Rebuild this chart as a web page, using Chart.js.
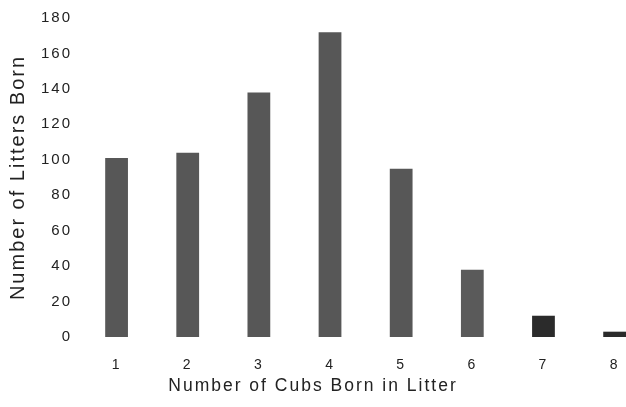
<!DOCTYPE html>
<html>
<head>
<meta charset="utf-8">
<script src="https://cdn.jsdelivr.net/npm/chart.js@4"></script>
<style>
    html, body { margin: 0; padding: 0; background: #ffffff; overflow: hidden; }
    #wrap { width: 626px; height: 407px; }
</style>
</head>
<body>
<div id="wrap"><canvas id="litters"></canvas></div>
<script>
// cubs per litter vs number of litters
var cubs = [1, 2, 3, 4, 5, 6, 7, 8];
var litters = [101, 104, 138, 172, 95, 38, 12, 3];
var barColors = ['#575757', '#575757', '#575757', '#575757', '#575757', '#5a5a5a', '#2b2b2b', '#2b2b2b'];
var yTicks = [0, 20, 40, 60, 80, 100, 120, 140, 160, 180];

// the scanned text is drawn quite wide, so space the letters a little
var spacing = {
    id: 'spacing',
    beforeUpdate: function(chart) { chart.ctx.letterSpacing = '2px'; },
    beforeDraw: function(chart) { chart.ctx.letterSpacing = '2px'; }
};

var points = cubs.map(function(c, i) { return { x: c, y: litters[i] }; });

var ctx = document.getElementById('litters');
var chart = new Chart(ctx, {
    type: 'bar',
    data: {
        datasets: [{
            label: 'Litters',
            data: points,
            backgroundColor: barColors,
            barPercentage: 0.32,
            categoryPercentage: 1
        }]
    },
    plugins: [spacing],
    options: {
        responsive: true,
        maintainAspectRatio: false,
        animation: false,
        layout: { padding: { top: 13, right: 0, left: 0, bottom: 0 } },
        plugins: {
            legend: { display: false },
            tooltip: { enabled: false },
            title: {     // centred on the whole picture like the original
                display: true,
                position: 'bottom',
                text: 'Number of Cubs Born in Litter',
                color: '#222',
                font: { family: 'Liberation Sans', size: 17.5, weight: 'normal' },
                padding: { top: 0, bottom: 10 }
            }
        },
        scales: {
            x: {
                type: 'linear',
                offset: false,
                min: 0.5,
                max: 8.16,
                afterBuildTicks: function(scale) {
                    scale.ticks = cubs.map(function(v) { return { value: v }; });
                },
                grid: { display: false, drawTicks: false },
                border: { display: false },
                ticks: { color: '#222', padding: 20, font: { family: 'Liberation Sans', size: 14 } },
                afterFit: function(scale) {
                    scale.height = 39;
                    scale.paddingLeft = 0;     // plot runs to the right edge
                    scale.paddingRight = 0;
                }
            },
            y: {
                min: 0,
                max: 180,
                afterBuildTicks: function(scale) {
                    scale.ticks = yTicks.map(function(v) { return { value: v }; });
                },
                grid: { display: false, drawTicks: false },
                border: { display: false },
                ticks: { color: '#222', padding: 9, font: { family: 'Liberation Sans', size: 15 } },
                title: {
                    display: true,
                    text: 'Number of Litters Born',
                    color: '#222',
                    font: { family: 'Liberation Sans', size: 20 },
                    padding: { top: 6, bottom: 6 }
                },
                afterFit: function(scale) { scale.width = 81; }
            }
        }
    }
});
</script>
</body>
</html>
